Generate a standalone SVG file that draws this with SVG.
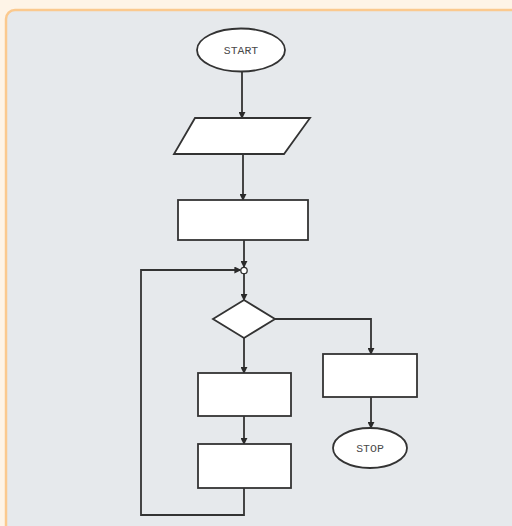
<svg xmlns="http://www.w3.org/2000/svg" width="512" height="526" viewBox="0 0 512 526">
  <defs>
    <marker id="arrow" viewBox="0 0 8 8" refX="7" refY="4" markerWidth="7" markerHeight="7" markerUnits="userSpaceOnUse" orient="auto">
      <path d="M0,0 L8,4 L0,8 z" fill="#2a2a2a"/>
    </marker>
    <style>
      .shape { fill: #ffffff; stroke: #333333; stroke-width: 1.8; }
      .edge { fill: none; stroke: #333333; stroke-width: 1.8; }
      .label { font-family: "Liberation Mono", "DejaVu Sans Mono", monospace; font-size: 11.5px; fill: #4a4a4a; text-anchor: middle; dominant-baseline: central; }
    </style>
  </defs>

  <!-- page and panel -->
  <rect x="0" y="0" width="512" height="526" fill="#fef4e7"/>
  <rect x="6" y="10" width="520" height="530" rx="9" ry="9" fill="#e6e9ec" stroke="#fbc98e" stroke-width="2.5"/>

  <!-- connectors -->
  <g id="connectors">
    <line class="edge" x1="242" y1="72" x2="242" y2="118" marker-end="url(#arrow)"/>
    <line class="edge" x1="243" y1="154" x2="243" y2="200" marker-end="url(#arrow)"/>
    <line class="edge" x1="244" y1="240" x2="244" y2="267" marker-end="url(#arrow)"/>
    <line class="edge" x1="244" y1="274" x2="244" y2="300" marker-end="url(#arrow)"/>
    <polyline class="edge" points="275,319 371,319 371,354" marker-end="url(#arrow)"/>
    <line class="edge" x1="371" y1="397" x2="371" y2="428" marker-end="url(#arrow)"/>
    <line class="edge" x1="244" y1="338" x2="244" y2="373" marker-end="url(#arrow)"/>
    <line class="edge" x1="244" y1="416" x2="244" y2="444" marker-end="url(#arrow)"/>
    <polyline class="edge" points="244,488 244,515 141,515 141,270 240.5,270" marker-end="url(#arrow)"/>
    <circle cx="244" cy="270.5" r="3.2" fill="#ffffff" stroke="#333333" stroke-width="1.3"/>
  </g>

  <g id="start">
    <ellipse class="shape" cx="241" cy="50" rx="44" ry="21.5"/>
    <text class="label" x="241" y="50">START</text>
  </g>

  <g id="input">
    <polygon class="shape" points="195,118 310,118 284,154 174,154"/>
  </g>

  <g id="process1">
    <rect class="shape" x="178" y="200" width="130" height="40"/>
  </g>

  <g id="decision">
    <polygon class="shape" points="244,300 275,319 244,338 213,319"/>
  </g>

  <g id="process2">
    <rect class="shape" x="323" y="354" width="94" height="43"/>
  </g>

  <g id="stop">
    <ellipse class="shape" cx="370" cy="448" rx="37" ry="20"/>
    <text class="label" x="370" y="448">STOP</text>
  </g>

  <g id="process3">
    <rect class="shape" x="198" y="373" width="93" height="43"/>
  </g>

  <g id="process4">
    <rect class="shape" x="198" y="444" width="93" height="44"/>
  </g>
</svg>
